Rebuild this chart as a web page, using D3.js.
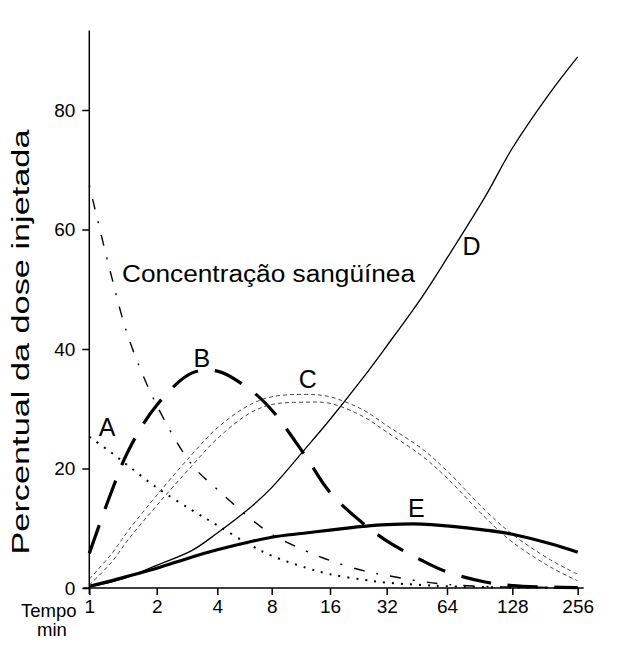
<!DOCTYPE html>
<html>
<head>
<meta charset="utf-8">
<script src="https://cdn.jsdelivr.net/npm/d3@7"></script>
<style>
  body { margin: 0; background: #fff; }
  text { font-family: "Liberation Sans", Arial, Helvetica, sans-serif; fill: #000; }
</style>
</head>
<body>
<div id="chart"></div>
<script>
const WIDTH = 623;
const HEIGHT = 649;

// tempo (min) e curvas
const tempo = [1, 1.25, 1.5, 2, 3, 4, 6, 8, 12, 16, 24, 32, 48, 64, 96, 128, 192, 256];
const sangue = [67.4, 52.5, 41.8, 30.6, 20.6, 16.5, 11.8, 9.0, 6.2, 4.6, 2.9, 2.1, 1.1, 0.6, 0.25, 0.15, 0.1, 0.05];
const curvaA = [25.3, 22.7, 20.4, 16.8, 13.0, 10.5, 7.3, 5.4, 3.4, 2.3, 1.4, 0.9, 0.5, 0.3, 0.15, 0.1, 0.05, 0.03];
const curvaB = [5.8, 15.9, 23.1, 30.6, 36.0, 36.3, 33.3, 29.8, 22.0, 16.0, 10.8, 7.9, 4.6, 2.7, 1.0, 0.4, 0.15, 0.05];
const curvaC1 = [1.5, 5.6, 9.7, 15.5, 22.4, 26.8, 30.6, 32.0, 32.4, 32.0, 29.8, 27.2, 23.3, 19.6, 13.0, 9.0, 4.7, 2.3];
const curvaC2 = [0.5, 4.2, 8.2, 13.8, 20.5, 25.0, 29.2, 30.7, 31.1, 30.9, 28.7, 26.1, 22.1, 18.4, 11.8, 7.7, 3.5, 1.2];
const curvaD = [0.2, 1.0, 1.9, 3.8, 6.3, 9.2, 13.3, 16.8, 23.4, 28.2, 35.2, 40.5, 48.7, 55.2, 65.5, 73.6, 83.0, 88.9];
const curvaE = [0.3, 1.2, 2.0, 3.3, 5.2, 6.4, 7.7, 8.5, 9.2, 9.7, 10.3, 10.6, 10.7, 10.4, 9.7, 9.0, 7.4, 6.0];

const xTicks = [1, 2, 4, 8, 16, 32, 64, 128, 256];
const yTicks = [0, 20, 40, 60, 80];

const svg = d3.select("#chart").append("svg")
  .attr("width", WIDTH)
  .attr("height", HEIGHT);

svg.append("rect").attr("width", WIDTH).attr("height", HEIGHT).attr("fill", "#fff");

// the original axis is hand drawn, so the log spacing is uneven: piecewise log scale
const x = d3.scaleLog()
  .domain(xTicks)
  .range([89.3, 156.7, 217.3, 271.7, 330, 386.7, 447, 512.3, 577.7]);

const y = d3.scaleLinear()
  .domain([0, 80])
  .range([588, 110]);

// axes
const xAxis = svg.append("g")
  .attr("transform", `translate(0,${y(0)})`)
  .call(d3.axisBottom(x).tickValues(xTicks).tickFormat(d3.format("d")).tickSize(7).tickSizeOuter(0).tickPadding(5));
xAxis.select(".domain").remove();
xAxis.selectAll("line").attr("stroke", "#000").attr("stroke-width", 1.5);
xAxis.selectAll("text").attr("font-size", 19).attr("font-family", "Liberation Sans, Arial, sans-serif");

const yAxis = svg.append("g")
  .attr("transform", `translate(${x(1)},0)`)
  .call(d3.axisLeft(y).tickValues(yTicks).tickSize(7).tickSizeOuter(0).tickPadding(7));
yAxis.select(".domain").remove();
yAxis.selectAll("line").attr("stroke", "#000").attr("stroke-width", 1.5);
yAxis.selectAll("text").attr("font-size", 19).attr("font-family", "Liberation Sans, Arial, sans-serif");

svg.append("line")
  .attr("x1", x(1) - 6).attr("x2", x(256) + 6)
  .attr("y1", y(0)).attr("y2", y(0))
  .attr("stroke", "#000").attr("stroke-width", 1.5);
svg.append("line")
  .attr("x1", x(1)).attr("x2", x(1))
  .attr("y1", y(0) + 6).attr("y2", y(93.3))
  .attr("stroke", "#000").attr("stroke-width", 1.5);

// curves
const series = [
  { values: sangue, width: 1.4, dash: "2,12,11,12", color: "#000" },
  { values: curvaA, width: 2, dash: "2,7", color: "#000" },
  { values: curvaB, width: 3.2, dash: "30,17", color: "#000" },
  { values: curvaC1, width: 0.9, dash: "4,3", color: "#333" },
  { values: curvaC2, width: 0.9, dash: "4,3", color: "#333" },
  { values: curvaD, width: 1.3, dash: null, color: "#000" },
  { values: curvaE, width: 3.2, dash: null, color: "#000" }
];

const line = d3.line()
  .x(d => x(d[0]))
  .y(d => y(d[1]))
  .curve(d3.curveCatmullRom.alpha(0.5));

svg.append("g")
  .selectAll("path")
  .data(series)
  .enter()
  .append("path")
  .attr("d", s => line(tempo.map((t, i) => [t, s.values[i]])))
  .attr("fill", "none")
  .attr("stroke", s => s.color)
  .attr("stroke-width", s => s.width)
  .attr("stroke-dasharray", s => s.dash);

// curve labels
const labels = [
  { text: "A", t: 1.2, v: 25.5 },
  { text: "B", t: 3.35, v: 37 },
  { text: "C", t: 12.3, v: 33.4 },
  { text: "D", t: 83, v: 55.7 },
  { text: "E", t: 45, v: 11.9 }
];
svg.append("g")
  .selectAll("text")
  .data(labels)
  .enter()
  .append("text")
  .attr("x", d => x(d.t))
  .attr("y", d => y(d.v))
  .attr("text-anchor", "middle")
  .attr("font-size", 25)
  .text(d => d.text);

svg.append("text")
  .attr("x", 122)
  .attr("y", 281.5)
  .attr("font-size", 23.5)
  .attr("textLength", 293)
  .attr("lengthAdjust", "spacingAndGlyphs")
  .text("Concentração sangüínea");

// axis titles
svg.append("text")
  .attr("transform", "translate(29,342) rotate(-90)")
  .attr("text-anchor", "middle")
  .attr("font-size", 23)
  .attr("textLength", 425)
  .attr("lengthAdjust", "spacingAndGlyphs")
  .text("Percentual da dose injetada");

svg.append("text")
  .attr("x", 21).attr("y", 617)
  .attr("font-size", 18.5)
  .text("Tempo");
svg.append("text")
  .attr("x", 52).attr("y", 636)
  .attr("text-anchor", "middle")
  .attr("font-size", 18.5)
  .text("min");
</script>
</body>
</html>
